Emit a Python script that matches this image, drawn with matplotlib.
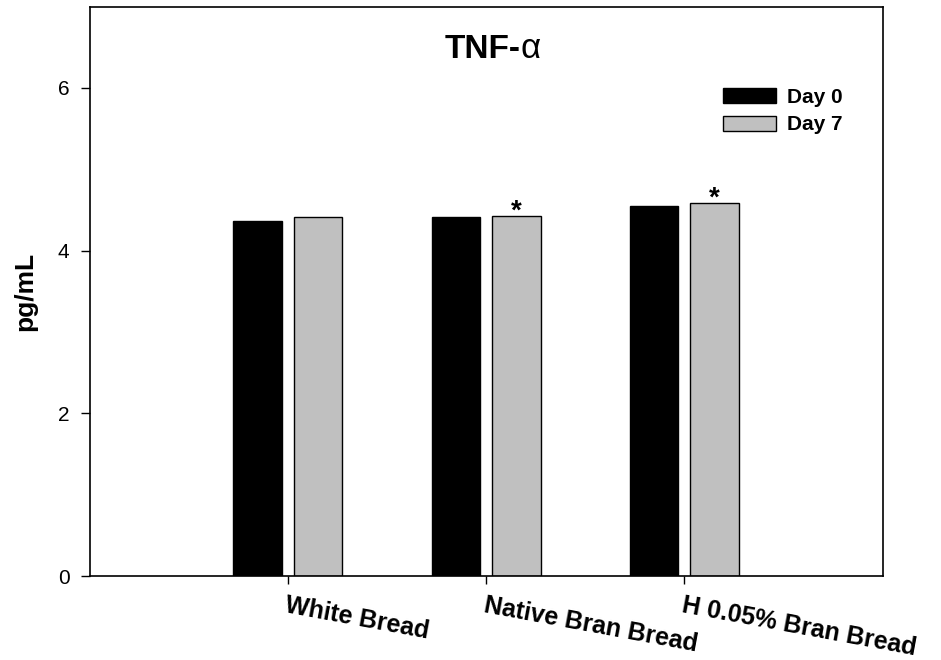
import numpy as np
import matplotlib
matplotlib.use("Agg")
from matplotlib import pyplot as plt

plt.rcParams['font.family'] = ['Liberation Sans', 'DejaVu Sans']

# podaci
kategorije = ["White Bread", "Native Bran Bread", "H 0.05% Bran Bread"]
dan0 = [4.37, 4.41, 4.55]
dan7 = [4.41, 4.43, 4.59]
zvjezdice = ["", "*", "*"]

fig = plt.figure(figsize=(9.41, 6.6), dpi=100)
ax = fig.add_axes([0.0953, 0.127, 0.8426, 0.863])

x = np.arange(1, len(kategorije) + 1)
sirina = 0.245
ax.bar(x - 0.152, dan0, sirina, color='black', edgecolor='black', linewidth=1, label='Day 0')
ax.bar(x + 0.152, dan7, sirina, color='#c0c0c0', edgecolor='black', linewidth=1, label='Day 7')

# oznake znacajnosti iznad Day 7 stupaca
for xi, v, z in zip(x, dan7, zvjezdice):
    if z:
        ax.annotate(z, (xi + 0.152, v), xytext=(0, -2), textcoords='offset points',
                    ha='center', va='baseline', fontsize=20, fontweight='bold')

ax.set_xlim(0, 4)
ax.set_ylim(0, 7)
ax.set_yticks([0, 2, 4, 6])
ax.set_xticks(x)
ax.set_xticklabels(kategorije, rotation=-10.5, ha='left', va='top',
                   rotation_mode='anchor', fontsize=18, fontweight='bold')
ax.tick_params(axis='y', labelsize=15, length=6.5, width=1, pad=8)
ax.tick_params(axis='x', length=6, width=1, pad=6)
for s in ax.spines.values():
    s.set_linewidth(1.2)

ax.set_ylabel('pg/mL', fontsize=19, fontweight='bold', labelpad=15)

naslov = ax.text(0.495, 0.924, 'TNF-', transform=ax.transAxes, ha='center', va='center',
                 fontsize=24, fontweight='bold')
ax.annotate('α', xy=(1, 0), xycoords=naslov, ha='left', va='bottom', fontsize=25)

ax.legend(loc='upper left', bbox_to_anchor=(0.799, 0.857), frameon=False,
          borderaxespad=0, borderpad=0, handlelength=2.55, handleheight=0.72,
          handletextpad=0.5, labelspacing=0.4,
          prop={'size': 15, 'weight': 'bold'})

fig.savefig('out.png', dpi=100)
